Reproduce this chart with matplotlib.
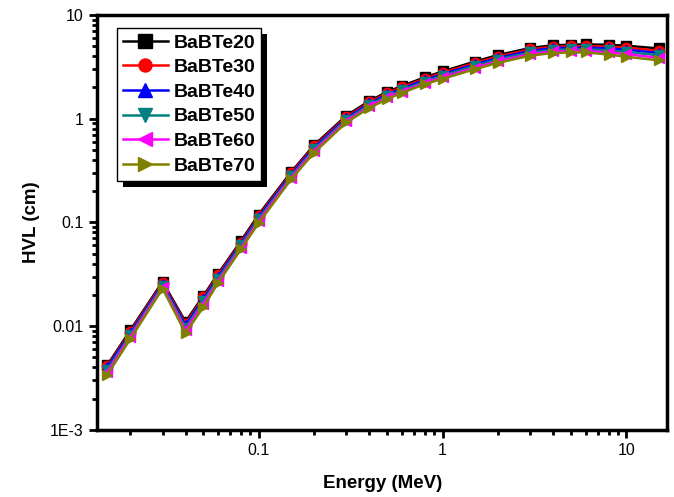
import numpy as np
import matplotlib
matplotlib.use("Agg")
import matplotlib.pyplot as plt
from matplotlib.patches import Rectangle
from matplotlib.ticker import LogLocator, FixedLocator, FixedFormatter, NullFormatter

plt.rcParams['font.family'] = ['Liberation Sans', 'DejaVu Sans']

# photon energy (MeV)
energy = [0.015, 0.02, 0.03, 0.04, 0.05, 0.06, 0.08, 0.1, 0.15, 0.2, 0.3, 0.4, 0.5,
          0.6, 0.8, 1, 1.5, 2, 3, 4, 5, 6, 8, 10, 15]

# half value layer (cm)
hvl_20 = [0.0042, 0.0091, 0.0268, 0.0110, 0.0196, 0.0318, 0.066, 0.119, 0.305, 0.555, 1.07, 1.48, 1.81,
          2.06, 2.50, 2.85, 3.55, 4.10, 4.80, 5.10, 5.15, 5.20, 5.15, 5.05, 4.75]
hvl_30 = [0.0041, 0.0088, 0.0261, 0.0106, 0.0189, 0.0308, 0.064, 0.115, 0.297, 0.540, 1.04, 1.44, 1.76,
          2.00, 2.43, 2.77, 3.44, 3.97, 4.65, 4.94, 4.98, 5.01, 4.95, 4.83, 4.52]
hvl_40 = [0.0040, 0.0085, 0.0254, 0.0102, 0.0182, 0.0298, 0.062, 0.112, 0.288, 0.525, 1.01, 1.40, 1.71,
          1.94, 2.36, 2.68, 3.33, 3.84, 4.50, 4.78, 4.82, 4.84, 4.75, 4.62, 4.30]
hvl_50 = [0.0038, 0.0082, 0.0246, 0.0097, 0.0174, 0.0285, 0.060, 0.108, 0.279, 0.508, 0.98, 1.36, 1.65,
          1.88, 2.28, 2.59, 3.22, 3.71, 4.35, 4.61, 4.65, 4.66, 4.55, 4.40, 4.08]
hvl_60 = [0.0036, 0.0079, 0.0238, 0.0092, 0.0165, 0.0272, 0.057, 0.104, 0.270, 0.490, 0.95, 1.31, 1.60,
          1.82, 2.21, 2.50, 3.10, 3.58, 4.20, 4.45, 4.50, 4.50, 4.35, 4.18, 3.86]
hvl_70 = [0.0034, 0.0075, 0.0230, 0.0086, 0.0153, 0.0260, 0.055, 0.099, 0.260, 0.470, 0.92, 1.27, 1.55,
          1.77, 2.15, 2.42, 3.00, 3.45, 4.05, 4.30, 4.35, 4.35, 4.15, 3.95, 3.65]

labels = ["BaBTe20", "BaBTe30", "BaBTe40", "BaBTe50", "BaBTe60", "BaBTe70"]
series = [hvl_20, hvl_30, hvl_40, hvl_50, hvl_60, hvl_70]
colors = ["black", "red", "blue", "#008080", "magenta", "#808000"]
markers = ["s", "o", "^", "v", "<", ">"]

fig = plt.figure(figsize=(6.74, 4.97), dpi=100)
ax = fig.add_axes([0.144, 0.135, 0.846, 0.835])

for y, lab, c, m in zip(series, labels, colors, markers):
    ax.plot(energy, y, color=c, marker=m, markersize=7.5, linewidth=1.8, label=lab)

ax.set_xscale("log")
ax.set_yscale("log")
ax.set_xlim(0.0132, 16.7)
ax.set_ylim(1e-3, 10)

ax.yaxis.set_major_locator(FixedLocator([1e-3, 1e-2, 1e-1, 1, 10]))
ax.yaxis.set_major_formatter(FixedFormatter(["1E-3", "0.01", "0.1", "1", "10"]))
ax.xaxis.set_major_locator(FixedLocator([0.1, 1, 10]))
ax.xaxis.set_major_formatter(FixedFormatter(["0.1", "1", "10"]))
for a in (ax.xaxis, ax.yaxis):
    a.set_minor_locator(LogLocator(base=10, subs=np.arange(2, 10)))
    a.set_minor_formatter(NullFormatter())

for sp in ax.spines.values():
    sp.set_linewidth(2.5)
ax.tick_params(which="major", direction="out", length=6, width=2, labelsize=11.5)
ax.tick_params(which="minor", direction="out", length=3.5, width=2)

ax.set_xlabel("Energy (MeV)", fontsize=13.5, fontweight="bold", labelpad=12)
ax.set_ylabel("HVL (cm)", fontsize=13.5, fontweight="bold", labelpad=7)

leg = ax.legend(loc="upper left", bbox_to_anchor=(0.035, 0.968), handlelength=2.3,
                prop={"weight": "bold", "size": 14}, fancybox=False, framealpha=1,
                edgecolor="black", borderpad=0.3, labelspacing=0.36, handletextpad=0.3,
                borderaxespad=0, markerscale=1.25)
leg.get_frame().set_linewidth(1.0)
leg.set_zorder(5)

# offset black shadow behind the legend, like the original
fig.canvas.draw()
bb = leg.get_window_extent().transformed(fig.transFigure.inverted())
dx, dy = 6 / 674, 6 / 497
sh = Rectangle((bb.x0 + dx, bb.y0 - dy), bb.width, bb.height, transform=fig.transFigure,
               facecolor="black", edgecolor="none", zorder=4.5, clip_on=False)
ax.add_artist(sh)

fig.savefig("out.png", dpi=100)
